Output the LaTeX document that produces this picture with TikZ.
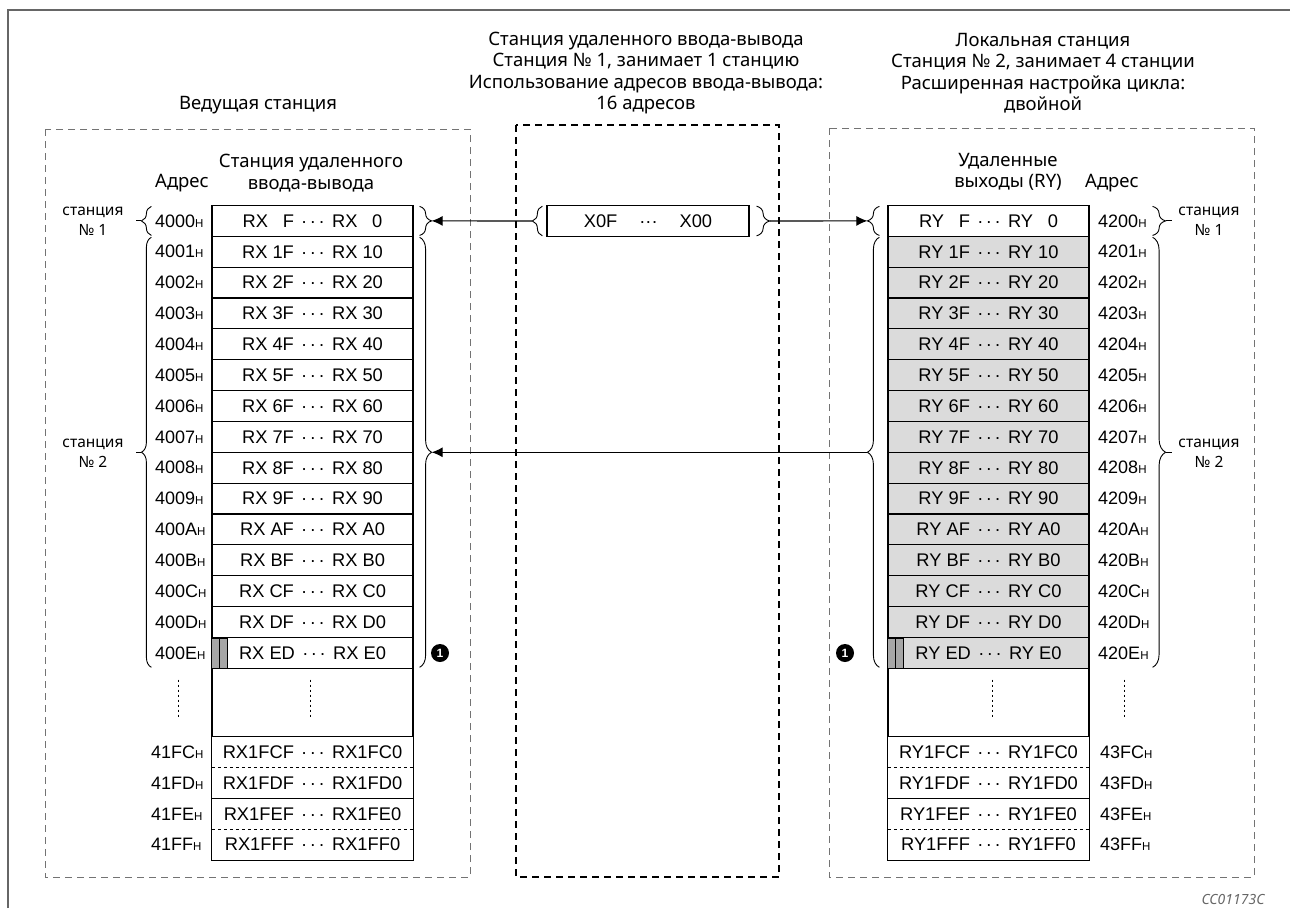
\documentclass[tikz,border=0pt]{standalone}
\usepackage{fontspec}
\setmainfont{Liberation Sans}
\newfontfamily\hdfont{Noto Sans}
\usepackage{tikz}
\usetikzlibrary{arrows.meta,decorations.pathreplacing,calc}

\newcommand\dts{\hspace{0.4em}·\kern2.6pt·\kern2.6pt·\hspace{0.4em}}
\newcommand\hsfx{{\fontsize{11.5}{10}\selectfont H}}

\tikzset{
  cell/.style={draw,line width=1.2pt,minimum width=201pt,minimum height=30.85pt,inner sep=0pt,font=\fontsize{18.3}{20}\selectfont},
  gcell/.style={cell,fill=black!14},
  ncell/.style={minimum width=201pt,minimum height=30.85pt,inner sep=0pt,font=\fontsize{18.3}{20}\selectfont},
  addr/.style={anchor=west,inner sep=0pt,font=\fontsize{18}{20}\selectfont},
  hd/.style={align=center,inner sep=0pt,font=\hdfont\fontsize{18.5}{21.5}\selectfont},
  stn/.style={align=center,inner sep=0pt,font=\hdfont\fontsize{15.5}{20}\selectfont},
  frame/.style={black!55,line width=0.9pt,dash pattern=on 7pt off 5pt},
  brc/.style={decorate,decoration={brace,amplitude=#1},line width=0.9pt},
  arr/.style={-{Latex[length=11pt,width=10pt]},line width=1.1pt},
  dotln/.style={line width=1.2pt,dash pattern=on 2pt off 3pt},
  bar/.style={draw,fill=black!35,line width=0.8pt},
  blt/.style={circle,fill=black,text=white,inner sep=0pt,minimum size=18pt,font=\bfseries\fontsize{12}{12}\selectfont}
}

\begin{document}
\begin{tikzpicture}[x=1pt,y=-1pt]
\useasboundingbox (0,0) rectangle (1290,908);
% page frame
\draw[black!60,line width=1.2pt] (8,908) -- (8,10) -- (1290,10);

% station frames
\draw[frame] (45,129) rectangle (470,877);
\draw[frame,black,line width=1.3pt] (516,125) rectangle (779,877);
\draw[frame] (829,128) rectangle (1254,877);

% headers
\node[hd] (mhd) at (258,105) {Ведущая станция};
\node[hd] (rhd) at (646,73) {Станция удаленного ввода-вывода\\Станция № 1, занимает 1 станцию\\Использование адресов ввода-вывода:\\16 адресов};
\node[hd] (lhd) at (1043,73) {Локальная станция\\Станция № 2, занимает 4 станции\\Расширенная настройка цикла:\\двойной};
\node[hd] (madr) at (182,183) {Адрес};
\node[hd] (mcol) at (311,173) {Станция удаленного\\ввода-вывода};
\node[hd] (lcol) at (1008,172) {Удаленные\\выходы (RY)};
\node[hd] (ladr) at (1112,183) {Адрес};

% master station table
\node[cell] (L0) at (312.5,220.9) {RX\hspace{0.8em}F\dts RX\hspace{0.8em}0};
\foreach \k/\d in {1/1,2/2,3/3,4/4,5/5,6/6,7/7,8/8,9/9,10/A,11/B,12/C,13/D}
  \node[cell] (L\k) at (312.5,{220.9+30.85*\k}) {RX \d F\dts RX \d0};
\node[cell] (L14) at (312.5,{220.9+30.85*14}) {RX ED\dts RX E0};
\foreach \k/\d in {0/0,1/1,2/2,3/3,4/4,5/5,6/6,7/7,8/8,9/9,10/A,11/B,12/C,13/D,14/E}
  \node[addr] (LA\k) at (155,{220.9+30.85*\k}) {400\d\hsfx};
\draw[bar] (L14.south west) rectangle ++(8,-30.85);
\draw[bar] ([xshift=8pt]L14.south west) rectangle ++(8,-30.85);
\node[cell,minimum height=68.4pt] (Ld) at (312.5,702.5) {};
\draw[dotln] ([xshift=-2pt,yshift=-12pt]Ld.north) -- ++(0,38);
\draw[dotln] ([xshift=-134pt,yshift=-12pt]Ld.north) -- ++(0,38);
\foreach \j/\d in {0/C,1/D,2/E,3/F} {
  \node[ncell] (LB\j) at (312.5,{752.1+30.85*\j}) {RX1F\d F\dts RX1F\d0};
  \node[addr] (LBA\j) at (151,{752.1+30.85*\j}) {41F\d\hsfx};
}
\draw[line width=1.2pt] (LB0.north west) rectangle (LB3.south east);
\draw[line width=1.2pt] (LB1.south west) -- (LB1.south east);
\draw[line width=0.8pt,dashed] (LB0.south west) -- (LB0.south east);
\draw[line width=0.8pt,dashed] (LB2.south west) -- (LB2.south east);

% master braces
\draw[brc=10pt] ([xshift=-60pt,yshift=1.5pt]L0.south west) -- ([xshift=-60pt,yshift=-1.5pt]L0.north west);
\draw[brc=10pt] ([xshift=-60pt,yshift=1.5pt]L14.south west) -- ([xshift=-60pt,yshift=-1.5pt]L1.north west);
\draw[line width=0.9pt] ([xshift=-70pt]L0.west) -- ++(-5,0);
\draw[line width=0.9pt] ($([xshift=-70pt]L1.north west)!.5!([xshift=-70pt]L14.south west)$) -- ++(-5,0);
\node[stn] (ls1) at (93,221) {станция\\№ 1};
\node[stn] (ls2) at (93,453) {станция\\№ 2};
\draw[brc=12pt] ([xshift=6pt,yshift=-1.5pt]L0.north east) -- ([xshift=6pt,yshift=1.5pt]L0.south east);
\draw[brc=12pt] ([xshift=6pt,yshift=-1.5pt]L1.north east) -- ([xshift=6pt,yshift=1.5pt]L14.south east);
\coordinate (Lt0) at ([xshift=18pt]L0.east);
\coordinate (Lt1) at ($([xshift=18pt]L1.north east)!.5!([xshift=18pt]L14.south east)$);

% remote I/O station
\node[cell,minimum width=202pt,minimum height=31.5pt] (X0) at (648,221) {X0F\hspace{1.2em}···\hspace{1.2em}X00};
\draw[brc=10pt] ([xshift=-4pt,yshift=1.5pt]X0.south west) -- ([xshift=-4pt,yshift=-1.5pt]X0.north west);
\draw[brc=13pt] ([xshift=7pt,yshift=-1.5pt]X0.north east) -- ([xshift=7pt,yshift=1.5pt]X0.south east);
\coordinate (Mt0) at ([xshift=-14pt]X0.west);
\coordinate (Mt1) at ([xshift=20pt]X0.east);

% local station table
\node[cell] (R0) at (988.5,220.9) {RY\hspace{0.8em}F\dts RY\hspace{0.8em}0};
\foreach \k/\d in {1/1,2/2,3/3,4/4,5/5,6/6,7/7,8/8,9/9,10/A,11/B,12/C,13/D}
  \node[gcell] (R\k) at (988.5,{220.9+30.85*\k}) {RY \d F\dts RY \d0};
\node[gcell] (R14) at (988.5,{220.9+30.85*14}) {RY ED\dts RY E0};
\foreach \k/\d in {0/0,1/1,2/2,3/3,4/4,5/5,6/6,7/7,8/8,9/9,10/A,11/B,12/C,13/D,14/E}
  \node[addr] (RA\k) at (1098,{220.9+30.85*\k}) {420\d\hsfx};
\draw[bar] (R14.south west) rectangle ++(8,-30.85);
\draw[bar] ([xshift=8pt]R14.south west) rectangle ++(8,-30.85);
\node[cell,minimum height=68.4pt] (Rd) at (988.5,702.5) {};
\draw[dotln] ([xshift=4pt,yshift=-12pt]Rd.north) -- ++(0,38);
\draw[dotln] ([xshift=136pt,yshift=-12pt]Rd.north) -- ++(0,38);
\foreach \j/\d in {0/C,1/D,2/E,3/F} {
  \node[ncell] (RB\j) at (988.5,{752.1+30.85*\j}) {RY1F\d F\dts RY1F\d0};
  \node[addr] (RBA\j) at (1100,{752.1+30.85*\j}) {43F\d\hsfx};
}
\draw[line width=1.2pt] (RB0.north west) rectangle (RB3.south east);
\draw[line width=1.2pt] (RB1.south west) -- (RB1.south east);
\draw[line width=0.8pt,dashed] (RB0.south west) -- (RB0.south east);
\draw[line width=0.8pt,dashed] (RB2.south west) -- (RB2.south east);

% local braces
\draw[brc=12pt] ([xshift=-8pt,yshift=1.5pt]R0.south west) -- ([xshift=-8pt,yshift=-1.5pt]R0.north west);
\draw[brc=12pt] ([xshift=-8pt,yshift=1.5pt]R14.south west) -- ([xshift=-8pt,yshift=-1.5pt]R1.north west);
\coordinate (Rt0) at ([xshift=-20pt]R0.west);
\coordinate (Rt1) at ($([xshift=-20pt]R1.north west)!.5!([xshift=-20pt]R14.south west)$);
\draw[brc=13pt] ([xshift=63pt,yshift=-1.5pt]R0.north east) -- ([xshift=63pt,yshift=1.5pt]R0.south east);
\draw[brc=13pt] ([xshift=63pt,yshift=-1.5pt]R1.north east) -- ([xshift=63pt,yshift=1.5pt]R14.south east);
\draw[line width=0.9pt] ([xshift=76pt]R0.east) -- ++(6,0);
\draw[line width=0.9pt] ($([xshift=76pt]R1.north east)!.5!([xshift=76pt]R14.south east)$) -- ++(6,0);
\node[stn] (rs1) at (1209,221) {станция\\№ 1};
\node[stn] (rs2) at (1209,453) {станция\\№ 2};

% data flow
\draw[arr] (Mt0) -- (Lt0);
\draw[arr] (Mt1) -- (Rt0);
\draw[arr] (Rt1) -- (Lt1);

\node[blt] (n1) at (440,653) {1};
\node[blt] (n2) at (845,653) {1};

\node[font=\hdfont\itshape\fontsize{14}{14}\selectfont,text=black!60] (code) at (1233,899) {CC01173C};
\end{tikzpicture}
\end{document}
